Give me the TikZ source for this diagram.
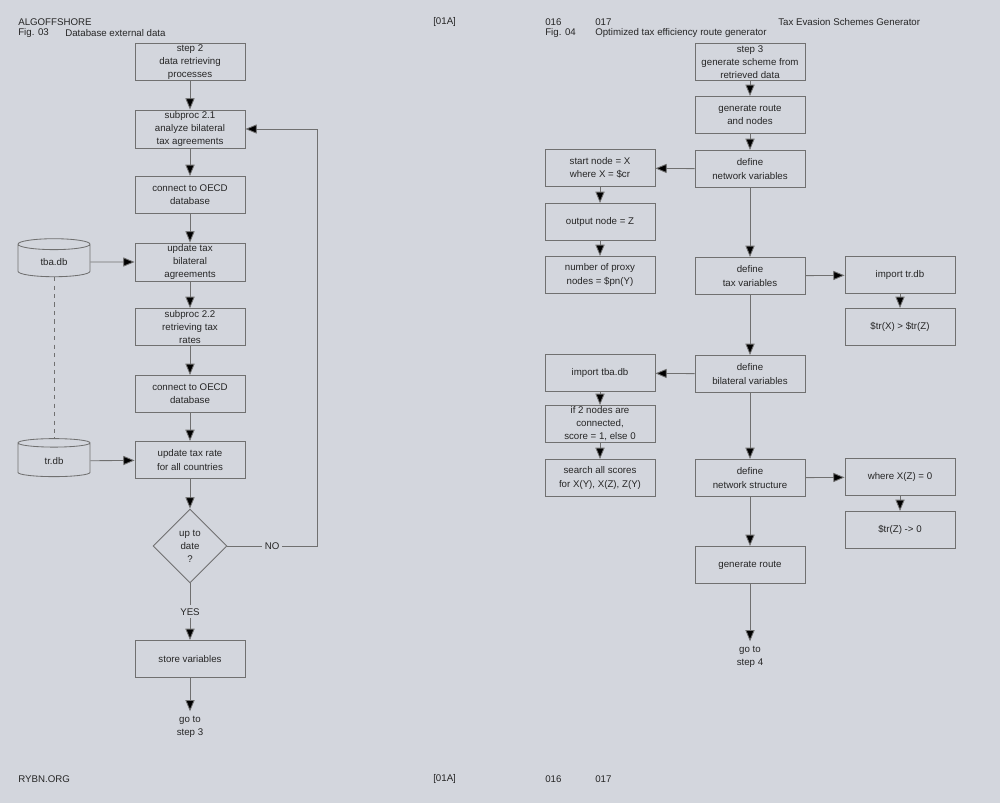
\documentclass[tikz,border=0pt]{standalone}
\usepackage{fontspec}
\setmainfont{Liberation Sans}
\usetikzlibrary{arrows.meta,shapes.geometric}
\definecolor{bg}{HTML}{D3D6DD}
\definecolor{ln}{HTML}{707070}
\begin{document}
\begin{tikzpicture}[x=0.025cm,y=-0.025cm,
  every node/.style={font=\fontsize{6.9}{9.3}\selectfont, text=black!85},
  box/.style={draw=ln, line width=0.6pt, minimum width=2.75cm, minimum height=0.93cm, align=center, inner sep=1pt},
  db/.style={draw=ln, line width=0.6pt, cylinder, shape border rotate=90, aspect=0.3, minimum width=1.8cm, minimum height=0.95cm},
  diam/.style={draw=ln, line width=0.6pt, diamond, minimum width=1.85cm, minimum height=1.85cm, align=center, inner sep=0pt},
  arr/.style={draw=ln, line width=0.6pt, -{Triangle[length=8pt,width=6.5pt,fill=black]}},
  lbl/.style={anchor=west, inner sep=0pt},
  lnk/.style={draw=ln, line width=0.6pt}]
\fill[bg] (0,0) rectangle (1000,803);
% headers
\node[lbl] (h1) at (18,22) {ALGOFFSHORE};
\node[lbl] (h2) at (18,33) {Fig. 03};
\node[lbl] (h3) at (65,33) {Database external data};
\node[lbl] (h4) at (433,22) {[01A]};
\node[lbl] (h5) at (545,22) {016};
\node[lbl] (h6) at (595,22) {017};
\node[lbl] (h7) at (778,22) {Tax Evasion Schemes Generator};
\node[lbl] (h8) at (545,33) {Fig. 04};
\node[lbl] (h9) at (595,33) {Optimized tax efficiency route generator};
\node[lbl] (f1) at (18,779) {RYBN.ORG};
\node[lbl] (f2) at (433,779) {[01A]};
\node[lbl] (f3) at (545,779) {016};
\node[lbl] (f4) at (595,779) {017};
% left flow
\node[box] (a1) at (190,62) {step 2\\data retrieving\\processes};
\node[box] (a2) at (190,129) {subproc 2.1\\analyze bilateral\\tax agreements};
\node[box] (a3) at (190,195) {connect to OECD\\database};
\node[box] (a4) at (190,262) {update tax\\bilateral\\agreements};
\node[box] (a5) at (190,327) {subproc 2.2\\retrieving tax\\rates};
\node[box] (a6) at (190,394) {connect to OECD\\database};
\node[box] (a7) at (190,460) {update tax rate\\for all countries};
\node[diam] (a8) at (190,546) {up to\\date\\?};
\node[box] (a9) at (190,659) {store variables};
\node[align=center] (a10) at (190,727) {go to\\step 3};
\node[db] (d1) at (54,262) {tba.db};
\node[db] (d2) at (54,461) {tr.db};
\draw[arr] (a1) -- (a2);
\draw[arr] (a2) -- (a3);
\draw[arr] (a3) -- (a4);
\draw[arr] (a4) -- (a5);
\draw[arr] (a5) -- (a6);
\draw[arr] (a6) -- (a7);
\draw[arr] (a7) -- (a8);
\draw[arr] (a8) -- node[fill=bg, inner sep=2pt] {YES} (a9);
\draw[arr] (a9) -- (a10);
\draw[arr] (d1) -- (a4);
\draw[arr] (d2) -- (a7);
\draw[lnk, dashed] (d1.bottom) -- (d2.top);
\coordinate (c1) at (317,546);
\coordinate (c2) at (317,129);
\draw[arr] (a8.east) -- node[fill=bg, inner sep=2pt] {NO} (c1) -- (c2) -- (a2.east);
% right flow
\node[box] (b1) at (750,62) {step 3\\generate scheme from\\retrieved data};
\node[box] (b2) at (750,115) {generate route\\and nodes};
\node[box] (b3) at (750,169) {define\\network variables};
\node[box] (b4) at (750,276) {define\\tax variables};
\node[box] (b5) at (750,374) {define\\bilateral variables};
\node[box] (b6) at (750,478) {define\\network structure};
\node[box] (b7) at (750,565) {generate route};
\node[align=center] (b8) at (750,657) {go to\\step 4};
\node[box] (l1) at (600,168) {start node = X\\where X = \$cr};
\node[box] (l2) at (600,222) {output node = Z};
\node[box] (l3) at (600,275) {number of proxy\\nodes = \$pn(Y)};
\node[box] (l4) at (600,373) {import tba.db};
\node[box] (l5) at (600,424) {if 2 nodes are\\connected,\\score = 1, else 0};
\node[box] (l6) at (600,478) {search all scores\\for X(Y), X(Z), Z(Y)};
\node[box] (r1) at (900,275) {import tr.db};
\node[box] (r2) at (900,327) {\$tr(X) > \$tr(Z)};
\node[box] (r3) at (900,477) {where X(Z) = 0};
\node[box] (r4) at (900,530) {\$tr(Z) -> 0};
\draw[arr] (b1) -- (b2);
\draw[arr] (b2) -- (b3);
\draw[arr] (b3) -- (b4);
\draw[arr] (b4) -- (b5);
\draw[arr] (b5) -- (b6);
\draw[arr] (b6) -- (b7);
\draw[arr] (b7) -- (b8);
\draw[arr] (b3) -- (l1);
\draw[arr] (l1) -- (l2);
\draw[arr] (l2) -- (l3);
\draw[arr] (b5) -- (l4);
\draw[arr] (l4) -- (l5);
\draw[arr] (l5) -- (l6);
\draw[arr] (b4) -- (r1);
\draw[arr] (r1) -- (r2);
\draw[arr] (b6) -- (r3);
\draw[arr] (r3) -- (r4);
\end{tikzpicture}
\end{document}
